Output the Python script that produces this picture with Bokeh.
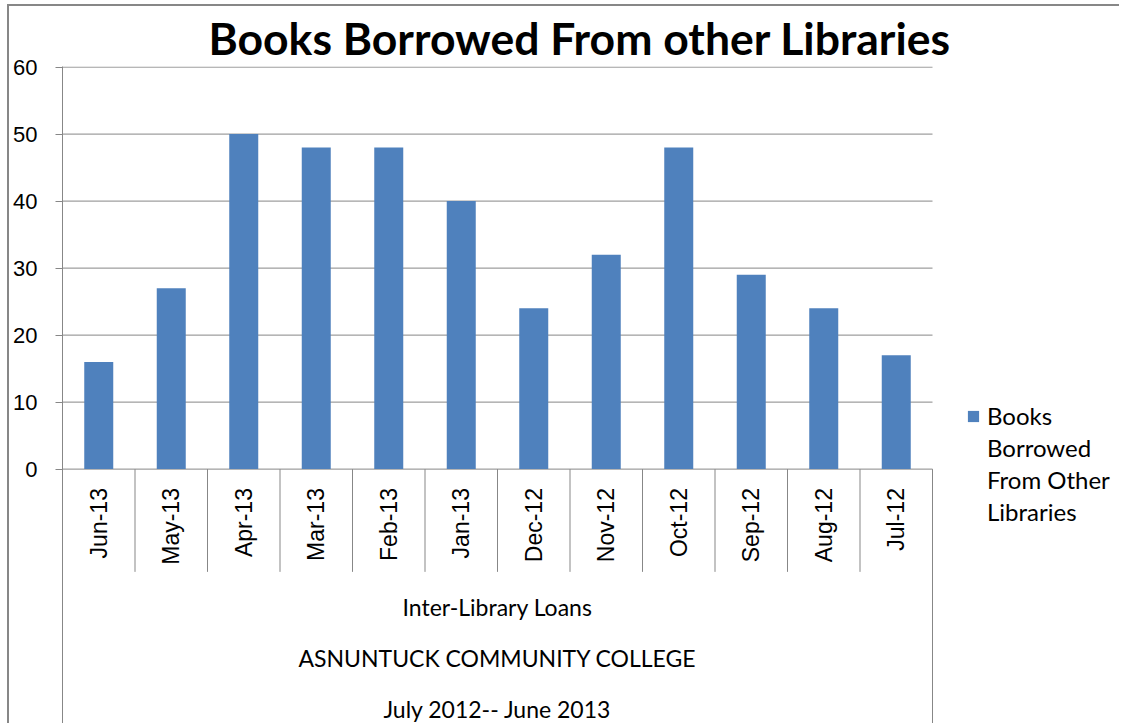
import math
from bokeh.plotting import figure
from bokeh.models import Range1d, FixedTicker, Legend, LegendItem
from bokeh.core.properties import value
from bokeh.embed import file_html
from bokeh.resources import INLINE

# ---- data ----
months = ["Jun-13", "May-13", "Apr-13", "Mar-13", "Feb-13", "Jan-13",
          "Dec-12", "Nov-12", "Oct-12", "Sep-12", "Aug-12", "Jul-12"]
books = [16, 27, 50, 48, 48, 40, 24, 32, 48, 29, 24, 17]
y_ticks = [0, 10, 20, 30, 40, 50, 60]
level_labels = ["Inter-Library Loans", "ASNUNTUCK COMMUNITY COLLEGE", "July 2012-- June 2013"]
title_text = "Books Borrowed From other Libraries"
series_lines = ["Books", "Borrowed", "From Other", "Libraries"]

# ---- layout constants (pixels in window) ----
W, H = 1121, 725
OX, OY = 9, 6            # canvas origin after outer border
FRAME_L, PLOT_R, FRAME_T = 62, 932, 65
ZERO_Y = 468
n = len(months)
cat_px = (PLOT_R - FRAME_L) / n
px_per_unit = (ZERO_Y - FRAME_T) / 60.0
y_end = 60.0 + 0.6 / px_per_unit
y_start = -(H - ZERO_Y) / px_per_unit
x_end = (W - FRAME_L) / cat_px

GRAY = "#878787"
BLUE = "#4F81BD"
CAL = "Lato"
ARIAL = "Liberation Sans"

centers = [i + 0.5 for i in range(n)]
bounds = list(range(n + 1))

p = figure(width=W - OX, height=H - OY,
           x_range=Range1d(0, x_end), y_range=Range1d(y_start, y_end),
           output_backend="svg", toolbar_location=None,
           min_border_left=FRAME_L - OX, min_border_right=0,
           min_border_top=FRAME_T - OY, min_border_bottom=0)
p.styles = {"margin-left": f"{OX-2}px", "margin-top": f"{OY-2}px",
            "border-left": f"2px solid {GRAY}", "border-top": f"2px solid {GRAY}"}
p.outline_line_color = None
p.background_fill_color = "white"
p.border_fill_color = "white"

# title
p.title.text = title_text
p.title.text_font = CAL
p.title.text_font_size = "44.5px"
p.title.text_font_style = "bold"
p.title.text_color = "black"
p.title.align = "left"
p.title.offset = 146
p.title.standoff = 5

# axes
p.xaxis.visible = False
p.xgrid.visible = False
p.ygrid.visible = False
yax = p.yaxis[0]
yax.ticker = FixedTicker(ticks=y_ticks)
yax.axis_line_color = GRAY
yax.major_tick_line_color = GRAY
yax.major_tick_out = 7
yax.major_tick_in = 0
yax.minor_tick_line_color = None
yax.major_label_standoff = 18
yax.major_label_text_font = ARIAL
yax.major_label_text_font_size = "22px"
yax.major_label_text_color = "black"

# horizontal gridlines over the plot area only
p.segment(x0=[bounds[0]] * len(y_ticks), y0=y_ticks, x1=[bounds[-1]] * len(y_ticks), y1=y_ticks,
          line_color=GRAY, line_width=1)

# bars
bars = p.vbar(x=centers, top=books, width=0.4, bottom=0, fill_color=BLUE, line_color=None)
blank = p.vbar(x=[], top=[], width=0.4, fill_alpha=0, line_alpha=0)

# category separators
sep_bottom = -(571 - ZERO_Y) / px_per_unit
p.segment(x0=bounds[1:-1], y0=[0] * (n - 1), x1=bounds[1:-1], y1=[sep_bottom] * (n - 1),
          line_color=GRAY, line_width=1)
p.segment(x0=[bounds[-1]], y0=[0], x1=[bounds[-1]], y1=[y_start], line_color=GRAY, line_width=1)

# category labels (rotated)
lab_y = -(487 - ZERO_Y) / px_per_unit
p.text(x=centers, y=[lab_y] * n, text=months, angle=math.pi / 2,
       text_align="right", text_baseline="middle",
       text_font=value(ARIAL), text_font_size="23px", text_color="black")

# outer level labels
level_y = [-(606 - ZERO_Y) / px_per_unit, -(657 - ZERO_Y) / px_per_unit, -(708 - ZERO_Y) / px_per_unit]
p.text(x=[n / 2] * 3, y=level_y, text=level_labels,
       text_align="center", text_baseline="middle",
       text_font=value(CAL), text_font_size="23px", text_color="black")

# legend (one series, label wrapped over four lines)
items = [LegendItem(label=series_lines[0], renderers=[bars])]
items += [LegendItem(label=s, renderers=[blank]) for s in series_lines[1:]]
legend = Legend(items=items, location=(966 - FRAME_L, H - 526))
legend.glyph_width = 14
legend.glyph_height = 14
legend.label_standoff = 7
legend.label_text_font = CAL
legend.label_text_font_size = "24px"
legend.label_text_color = "black"
legend.label_height = 20
legend.spacing = 3
legend.padding = 0
legend.margin = 0
legend.border_line_color = None
legend.background_fill_alpha = 0
p.add_layout(legend)

open("out.html", "w").write(file_html(p, INLINE))
